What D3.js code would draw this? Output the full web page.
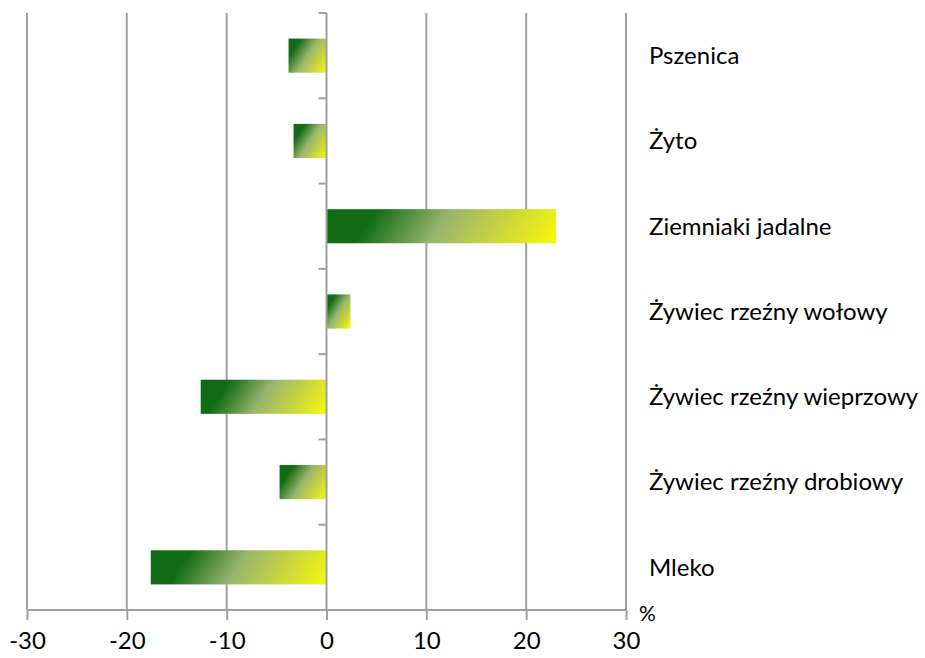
<!DOCTYPE html>
<html>
<head>
<meta charset="utf-8">
<script src="https://cdn.jsdelivr.net/npm/d3@7"></script>
<style>
  html, body { margin: 0; padding: 0; background: #fff; }
  svg text { font-family: Lato, "Open Sans", sans-serif; fill: #000; }
</style>
</head>
<body>
<svg id="chart" width="925" height="658"></svg>
<script>
const categories = ["Pszenica", "Żyto", "Ziemniaki jadalne", "Żywiec rzeźny wołowy",
  "Żywiec rzeźny wieprzowy", "Żywiec rzeźny drobiowy", "Mleko"];
const values = [-3.8, -3.3, 23.0, 2.4, -12.6, -4.7, -17.6];
const xTicks = [-30, -20, -10, 0, 10, 20, 30];
const unitLabel = "%";

(function () {
const svg = d3.select("#chart");
const pLeft = 27, pRight = 626, pTop = 13, pBottom = 610;

const x = d3.scaleLinear().domain([-30, 30]).range([pLeft, pRight]);
const y = d3.scaleBand().domain(categories).range([pTop, pBottom]).paddingInner(0.6).paddingOuter(0.3);
const yEdges = d3.scaleBand().domain(categories).range([pTop, pBottom]).padding(0);

const gridColor = "#a0a0a0";

// vertical gridlines
svg.append("g").selectAll("line").data(xTicks.filter(d => d !== 0)).join("line")
  .attr("x1", d => x(d)).attr("x2", d => x(d))
  .attr("y1", pTop).attr("y2", pBottom)
  .attr("stroke", gridColor).attr("stroke-width", 2);

// x axis
const xAxis = svg.append("g").attr("transform", `translate(0,${pBottom})`)
  .call(d3.axisBottom(x).tickValues(xTicks).tickSize(10).tickPadding(12).tickFormat(d => String(d)));
xAxis.select(".domain").attr("stroke", gridColor).attr("stroke-width", 2).attr("d", `M${pLeft},0H${pRight}`);
xAxis.selectAll(".tick line").attr("stroke", gridColor).attr("stroke-width", 2);
xAxis.selectAll(".tick text").attr("font-size", 24).attr("font-family", "Lato, sans-serif").attr("fill", "#000");

// gradients
const defs = svg.append("defs");
const theta = 33 * Math.PI / 180;
const c = Math.cos(theta), s = Math.sin(theta);
const h = y.bandwidth();
values.forEach((v, i) => {
  const x0 = Math.min(x(0), x(v)), w = Math.abs(x(v) - x(0));
  const y0 = y(categories[i]);
  const L = w * c + h * s;
  const g = defs.append("linearGradient").attr("id", "grad" + i)
    .attr("gradientUnits", "userSpaceOnUse")
    .attr("x1", x0).attr("y1", y0)
    .attr("x2", x0 + L * c).attr("y2", y0 + L * s);
  [[0, "#0f6a14"], [0.2, "#116c15"], [0.5, "#9ab56e"], [1, "#f9f909"]].forEach(([o, col]) =>
    g.append("stop").attr("offset", o).attr("stop-color", col));
});

// bars
svg.append("g").selectAll("rect").data(values).join("rect")
  .attr("x", d => Math.min(x(0), x(d)))
  .attr("width", d => Math.abs(x(d) - x(0)))
  .attr("y", (d, i) => y(categories[i]))
  .attr("height", h)
  .attr("fill", (d, i) => `url(#grad${i})`);

// y axis at zero
const yAxis = svg.append("g").attr("transform", `translate(${x(0)},0)`);
yAxis.append("line").attr("x1", 0).attr("x2", 0).attr("y1", pTop).attr("y2", pBottom)
  .attr("stroke", gridColor).attr("stroke-width", 2);
const edges = categories.map(cname => yEdges(cname));
yAxis.selectAll("line.tk").data(edges).join("line").attr("class", "tk")
  .attr("x1", -8).attr("x2", 0).attr("y1", d => d).attr("y2", d => d)
  .attr("stroke", gridColor).attr("stroke-width", 2);

// category labels on the right
svg.append("g").selectAll("text").data(categories).join("text")
  .attr("x", 649)
  .attr("y", d => y(d) + y.bandwidth() / 2)
  .attr("dy", "0.35em")
  .attr("font-size", 24)
  .text(d => d);

// unit label
svg.append("text").attr("x", 639).attr("y", 621).attr("font-size", 21).text(unitLabel);
})();
</script>
</body>
</html>
